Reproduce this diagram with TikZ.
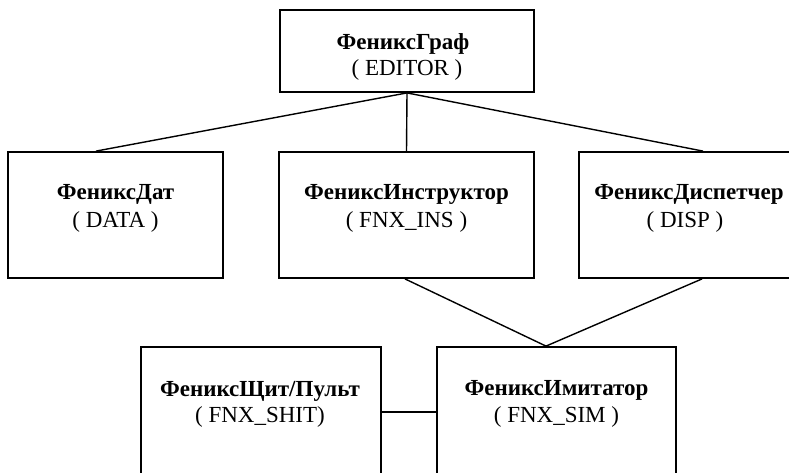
\documentclass[tikz,border=0pt]{standalone}
\usepackage{fontspec}
\setmainfont{Liberation Serif}
\usetikzlibrary{calc}
\begin{document}
\begin{tikzpicture}[x=1pt,y=-1pt,
  box/.style={draw=black,line width=1.8pt,rectangle,inner sep=0pt,fill=none},
  ttl/.style={anchor=base,inner sep=0pt,font=\fontsize{23}{27}\selectfont\bfseries},
  sub/.style={anchor=base,inner sep=0pt,font=\fontsize{23}{27}\selectfont},
  link/.style={draw=black,line width=1.4pt}]
\useasboundingbox (0,0) rectangle (789,472);
\clip (0,0) rectangle (789,472);
% boxes
\node[box,minimum width=254pt,minimum height=82pt] (graf) at (407,51) {};
\node[box,minimum width=215pt,minimum height=126pt] (data) at (115.5,215) {};
\node[box,minimum width=255pt,minimum height=126pt] (ins) at (406.5,215) {};
\node[box,minimum width=214pt,minimum height=126pt] (disp) at (686,215) {};
\node[box,minimum width=240pt,minimum height=160pt] (shit) at (261,427) {};
\node[box,minimum width=239pt,minimum height=160pt] (sim) at (556.5,427) {};
% texts
\node[ttl] (grafT) at (403,49) {ФениксГраф};
\node[sub] (grafS) at (407,75) {( EDITOR )};
\node[ttl] (dataT) at (115.5,199) {ФениксДат};
\node[sub] (dataS) at (115.5,227) {( DATA )};
\node[ttl] (insT) at (406.5,199) {ФениксИнструктор};
\node[sub] (insS) at (406.5,227) {( FNX\_INS )};
\node[ttl] (dispT) at (689,199) {ФениксДиспетчер};
\node[sub] (dispS) at (685,227) {( DISP )};
\node[ttl] (shitT) at (260,396) {ФениксЩит/Пульт};
\node[sub] (shitS) at (260,422) {( FNX\_SHIT)};
\node[ttl] (simT) at (556.5,395) {ФениксИмитатор};
\node[sub] (simS) at (556.5,422) {( FNX\_SIM )};
% connectors
\draw[link] (graf.south) -- ($(data.north)+(-19.5,0)$);
\draw[link] (graf.south) -- (ins.north);
\draw[link] (graf.south) -- ($(disp.north)+(17,0)$);
\draw[link] ($(ins.south)+(-1.5,0)$) -- ($(sim.north)+(-10.5,0)$);
\draw[link] ($(disp.south)+(16,0)$) -- ($(sim.north)+(-10.5,0)$);
\draw[link] ($(shit.north east)+(0,66)$) -- ($(sim.north west)+(0,66)$);
\end{tikzpicture}
\end{document}
